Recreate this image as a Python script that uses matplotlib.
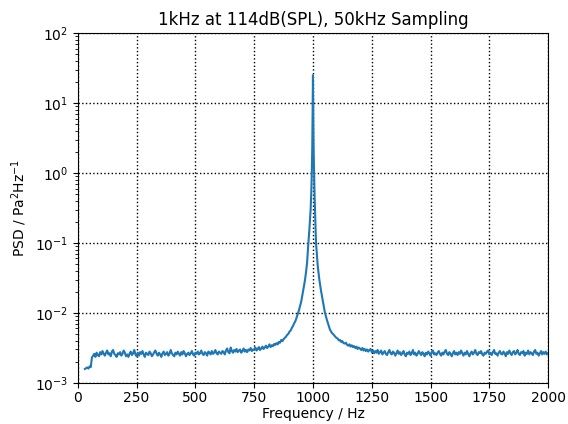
"""PSD of a 1 kHz tone at 114 dB(SPL), sampled at 50 kHz."""

import numpy as np
import matplotlib

matplotlib.use("Agg")
import matplotlib.pyplot as plt  # noqa: E402

# noise floor below the tone, 30..930 Hz every 5 Hz, in 1e-3 Pa^2/Hz
freq_low = np.arange(30, 931, 5)
psd_low_milli = [
    1.58, 1.62, 1.66, 1.60, 1.72, 1.68, 2.30, 2.45, 2.60, 2.35,
    2.70, 2.50, 2.40, 2.75, 2.55, 2.85, 2.60, 2.45, 2.70, 2.90,
    2.55, 2.65, 2.40, 2.80, 2.95, 2.60, 2.50, 2.35, 2.65, 2.55,
    2.75, 2.45, 2.60, 2.90, 2.70, 2.40, 2.55, 2.35, 2.60, 2.80,
    2.50, 2.65, 2.95, 2.55, 2.40, 2.70, 2.45, 2.75, 2.60, 2.85,
    2.55, 2.35, 2.70, 2.60, 2.50, 2.80, 2.65, 2.40, 2.55, 2.75,
    2.90, 2.60, 2.45, 2.70, 2.55, 2.35, 2.65, 2.80, 2.50, 2.60,
    2.75, 2.45, 2.60, 2.95, 2.65, 2.50, 2.40, 2.70, 2.55, 2.80,
    2.60, 2.45, 2.75, 2.55, 2.85, 2.65, 2.40, 2.60, 2.70, 2.50,
    2.65, 2.85, 2.55, 2.45, 2.70, 2.60, 2.80, 2.55, 2.65, 2.90,
    2.60, 2.50, 2.75, 2.65, 2.45, 2.80, 2.70, 2.55, 2.85, 2.60,
    2.70, 2.95, 2.65, 2.55, 2.80, 2.70, 2.60, 2.85, 2.75, 2.55,
    2.90, 3.10, 2.75, 2.65, 3.20, 2.85, 2.70, 2.95, 2.80, 3.05,
    2.75, 2.90, 3.00, 2.70, 2.85, 3.10, 2.80, 2.95, 2.75, 3.00,
    2.90, 3.15, 2.85, 3.00, 2.95, 3.20, 2.90, 3.05, 3.25, 2.95,
    3.10, 3.30, 3.05, 3.20, 3.40, 3.15, 3.30, 3.55, 3.25, 3.45,
    3.35, 3.60, 3.50, 3.70, 3.55, 3.85, 3.75, 4.10, 3.95, 4.20,
    4.40, 4.55, 4.85, 5.00, 5.40, 5.60, 6.10, 6.50, 7.10, 7.60,
    8.50,
]

# the tone itself, in Pa^2/Hz
freq_peak = [
    940, 945, 950, 955, 960, 965, 970, 975, 980, 985, 990, 993, 995,
    997, 998, 999, 1000, 1001, 1002, 1003, 1005, 1007, 1010, 1013,
    1017, 1020, 1027, 1034, 1040, 1045, 1051, 1060, 1072, 1080,
]
psd_peak = [
    0.0108, 0.0125, 0.0145, 0.018, 0.022, 0.028, 0.037, 0.052, 0.095,
    0.16, 0.30, 0.55, 1.0, 2.3, 4.5, 11.0, 25.0, 9.0, 3.6, 2.0, 0.95,
    0.45, 0.22, 0.10, 0.065, 0.048, 0.030, 0.021, 0.016, 0.013, 0.010,
    0.0078, 0.0058, 0.0052,
]

# noise floor above the tone, 1085..2000 Hz every 5 Hz, in 1e-3 Pa^2/Hz
freq_high = np.arange(1085, 2001, 5)
psd_high_milli = [
    5.00, 4.80, 4.55, 4.40, 4.30, 4.05, 4.10, 3.85, 3.95, 3.70,
    3.65, 3.75, 3.50, 3.40, 3.55, 3.30, 3.45, 3.25, 3.35, 3.15,
    3.30, 3.05, 3.20, 3.10, 2.95, 3.15, 2.90, 3.05, 2.85, 3.00,
    2.80, 2.95, 3.05, 2.75, 2.90, 2.65, 2.85, 2.70, 2.95, 2.60,
    2.75, 2.90, 2.55, 2.70, 2.85, 2.60, 2.50, 2.75, 2.95, 2.65,
    2.55, 2.80, 2.70, 2.45, 2.65, 2.90, 2.60, 2.75, 2.50, 2.65,
    2.85, 2.55, 2.40, 2.70, 2.60, 2.80, 2.50, 2.65, 2.95, 2.55,
    2.70, 2.45, 2.60, 2.85, 2.65, 2.50, 2.75, 2.60, 2.40, 2.70,
    2.55, 2.80, 2.65, 2.45, 2.75, 2.90, 2.55, 2.65, 2.50, 2.70,
    2.85, 2.60, 2.45, 2.70, 2.55, 2.80, 2.95, 2.60, 2.50, 2.75,
    2.60, 2.40, 2.65, 2.85, 2.55, 2.70, 2.50, 2.75, 2.60, 2.90,
    2.65, 2.45, 2.70, 2.55, 2.85, 2.60, 2.40, 2.65, 2.80, 2.55,
    2.70, 2.95, 2.60, 2.50, 2.75, 2.65, 2.85, 2.55, 2.45, 2.70,
    2.60, 2.80, 2.90, 2.55, 2.70, 2.50, 2.75, 2.95, 2.60, 2.65,
    2.45, 2.70, 2.85, 2.60, 2.55, 2.80, 2.65, 2.40, 2.75, 2.60,
    2.90, 2.65, 2.50, 2.75, 2.85, 2.55, 2.70, 2.95, 2.60, 2.50,
    2.75, 2.65, 2.85, 2.45, 2.70, 2.60, 2.90, 2.55, 2.75, 2.65,
    2.50, 2.80, 2.95, 2.60, 2.70, 2.45, 2.65, 2.85, 2.55, 2.75,
    2.60, 2.80, 2.55, 2.65,
]

x_ticks = [0, 250, 500, 750, 1000, 1250, 1500, 1750, 2000]

freq = np.concatenate([freq_low, freq_peak, freq_high])
psd = np.concatenate([
    np.array(psd_low_milli) * 1e-3,
    psd_peak,
    np.array(psd_high_milli) * 1e-3,
])

fig = plt.figure(figsize=(5.68, 4.24), dpi=100)
ax = fig.add_axes([0.137, 0.097, 0.828, 0.825])
ax.semilogy(freq, psd, color="#1f77b4", linewidth=1.5)
ax.set_xlim(0, 2000)
ax.set_ylim(1e-3, 1e2)
ax.set_xticks(x_ticks)
ax.tick_params(axis="x", pad=2)
ax.grid(True, which="major", color="k", linestyle=":", linewidth=1)
ax.set_title("1kHz at 114dB(SPL), 50kHz Sampling")
ax.set_xlabel("Frequency / Hz", labelpad=2)
ax.set_ylabel("PSD / Pa$^2$Hz$^{-1}$")
fig.savefig("out.png", dpi=100)
plt.close(fig)
